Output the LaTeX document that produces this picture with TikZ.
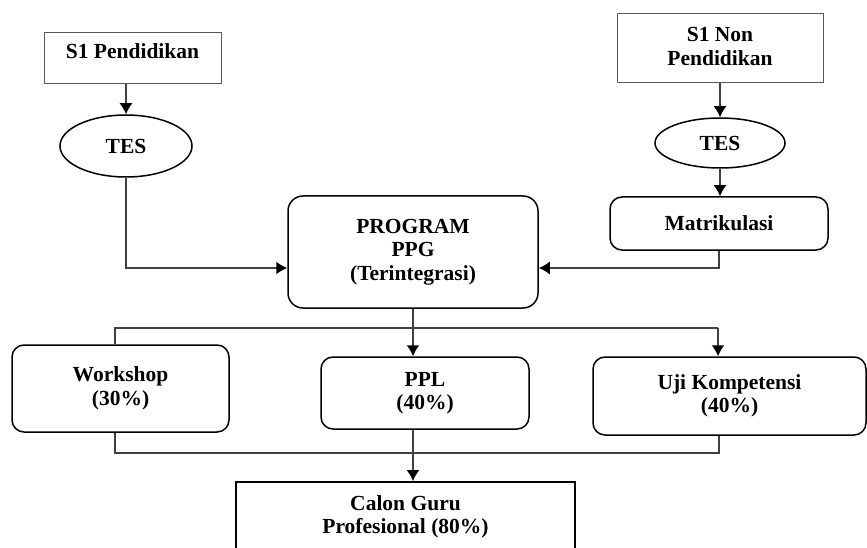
\documentclass[tikz,border=0pt]{standalone}
\usepackage{fontspec}
\setmainfont{Liberation Serif}
\usetikzlibrary{arrows.meta,shapes.geometric}
\begin{document}
\begin{tikzpicture}[x=1pt,y=-1pt,
  every node/.style={font=\fontsize{21.5}{23.5}\selectfont\bfseries, align=center, inner sep=0pt},
  sqbox/.style={draw=black!65, line width=1pt, rectangle},
  rbox/.style={draw=black, line width=1.5pt, rounded corners=12pt},
  oval/.style={draw=black, line width=1.5pt, ellipse},
  conn/.style={draw=black!75, line width=1.5pt},
  arr/.style={conn, -{Latex[length=11pt,width=13pt,color=black]}}
]
\useasboundingbox (0,0) rectangle (867,548);
\clip (0,0) rectangle (867,548);

\node[sqbox, minimum width=177, minimum height=51, label={[yshift=7pt]center:S1 Pendidikan}] (s1p) at (132.5,58.5) {};
\node[oval, minimum width=132, minimum height=62] (tes1) at (126,146) {TES};
\node[sqbox, minimum width=206, minimum height=69, label={[yshift=2pt]center:S1 Non\\Pendidikan}] (s1n) at (720,48.5) {};
\node[oval, minimum width=130, minimum height=50] (tes2) at (720,143) {TES};
\node[rbox, minimum width=218, minimum height=53] (mat) at (719,223.5) {Matrikulasi};
\node[rbox, rounded corners=15pt, minimum width=250, minimum height=112] (prog) at (413,252) {PROGRAM\\PPG\\(Terintegrasi)};
\node[rbox, minimum width=217, minimum height=87] (wk) at (120.5,388.5) {Workshop\\(30\%)};
\node[rbox, minimum width=208, minimum height=72] (ppl) at (425,393) {PPL\\(40\%)};
\node[rbox, minimum width=273, minimum height=78] (uji) at (729.5,396) {Uji Kompetensi\\(40\%)};
\node[draw=black, line width=1.8pt, minimum width=339, minimum height=70] (cal) at (405.5,517) {Calon Guru\\Profesional (80\%)};

\draw[arr] (s1p.south -| tes1.north) -- (tes1.north);
\coordinate (jl) at (126,268);
\draw[arr] (tes1.south) -- (jl) -- (jl -| prog.west);
\draw[arr] (s1n.south) -- (tes2.north);
\draw[arr] (tes2.south) -- (tes2.south |- mat.north);
\coordinate (jr) at (719,268);
\draw[arr] (mat.south) -- (jr) -- (jr -| prog.east);
\draw[arr] (prog.south) -- (prog.south |- ppl.north);
\coordinate (tl) at (115,328);
\coordinate (tr) at (718,328);
\draw[conn] (wk.north -| tl) -- (tl) -- (tr);
\draw[arr] (tr) -- (tr |- uji.north);
\coordinate (bl) at (115,453);
\coordinate (br) at (719,453);
\draw[conn] (wk.south -| bl) -- (bl) -- (br) -- (uji.south -| br);
\draw[arr] (ppl.south -| prog.south) -- (prog.south |- cal.north);
\end{tikzpicture}
\end{document}
